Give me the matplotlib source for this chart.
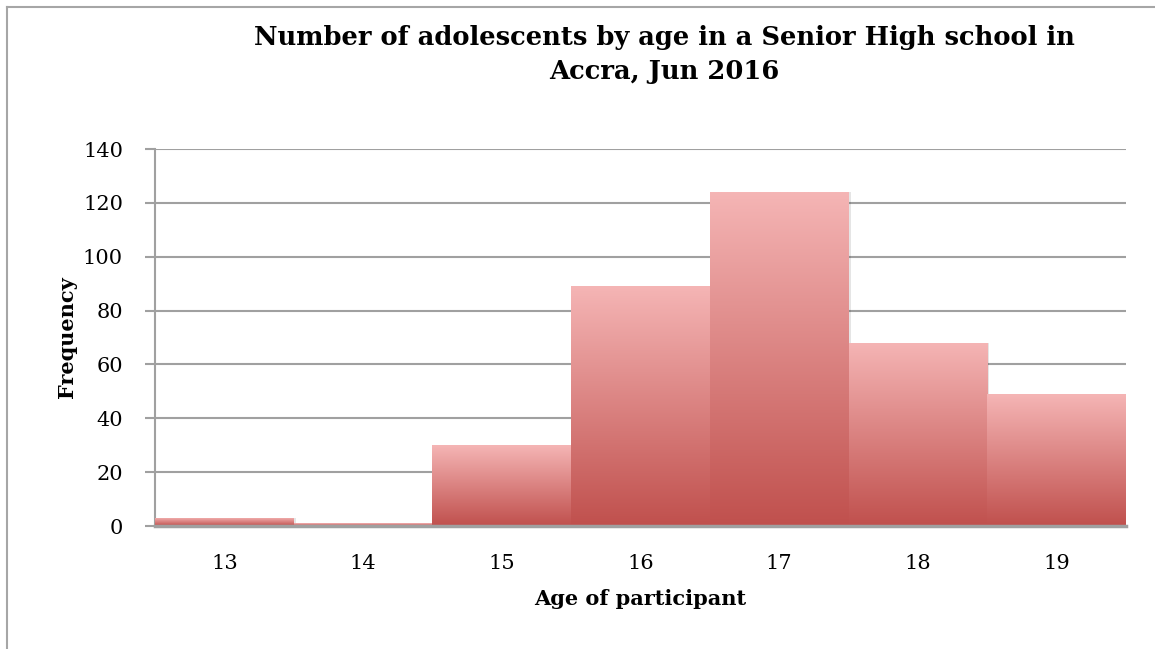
import numpy as np
import matplotlib
matplotlib.use("Agg")
import matplotlib.pyplot as plt
from matplotlib.colors import LinearSegmentedColormap
from matplotlib.patches import Rectangle
from matplotlib.lines import Line2D

ages = ["13", "14", "15", "16", "17", "18", "19"]
freq = [3, 1, 30, 89, 124, 68, 49]
yticks = [0, 20, 40, 60, 80, 100, 120, 140]
title = "Number of adolescents by age in a Senior High school in\nAccra, Jun 2016"
xlabel = "Age of participant"
ylabel = "Frequency"

plt.rcParams['font.family'] = ['DejaVu Serif']

fig = plt.figure(figsize=(11.55, 6.49), dpi=100)
ax = fig.add_axes([155/1155, 1-526/649, (1126-155)/1155, (526-149)/649])

# figure frame
fig.add_artist(Line2D([7/1155, 7/1155], [0, 1-7/649], transform=fig.transFigure, color="#a6a6a6", lw=1.5))
fig.add_artist(Line2D([7/1155, 1], [1-7/649, 1-7/649], transform=fig.transFigure, color="#a6a6a6", lw=1.5))

cmap = LinearSegmentedColormap.from_list("g", ["#c0504d", "#f5b5b5"])
grad = np.linspace(0, 1, 256).reshape(-1, 1)

x = np.arange(len(ages))
bars = ax.bar(x, freq, width=1.0, color="none", edgecolor="none", zorder=3)
for b in bars:
    bx, by, bw, bh = b.get_x(), b.get_y(), b.get_width(), b.get_height()
    sh = Rectangle((bx + 0.015, by), bw, bh, facecolor="#000000", alpha=0.10, edgecolor="none", zorder=2.5)
    ax.add_patch(sh)
    im = ax.imshow(grad, cmap=cmap, origin="lower", extent=[bx, bx + bw, by, by + bh],
                   aspect="auto", zorder=3, interpolation="bilinear")
    im.set_clip_path(b)

ax.set_xlim(-0.5, len(ages) - 0.5)
ax.set_ylim(0, 140)
ax.set_yticks(yticks)
ax.set_xticks(x)
ax.set_xticklabels(ages)
ax.grid(axis="y", color="#a0a0a0", lw=1.5, zorder=1)
ax.set_axisbelow(True)
for s in ["top", "right"]:
    ax.spines[s].set_visible(False)
ax.spines["left"].set_color("#a0a0a0")
ax.spines["left"].set_linewidth(1.5)
ax.spines["bottom"].set_color("#a0a0a0")
ax.spines["bottom"].set_linewidth(2.5)
ax.spines["bottom"].set_zorder(4)
ax.tick_params(axis="y", length=7, color="#a0a0a0", width=1.5, labelsize=15, pad=16)
ax.tick_params(axis="x", length=0, labelsize=15, pad=20)

ax.set_xlabel(xlabel, fontsize=15, fontweight="bold", labelpad=12)
ax.set_ylabel(ylabel, fontsize=15, fontweight="bold", labelpad=4)
fig.text(664/1155, 1-55/649, title, ha="center", va="center", fontsize=18.5, fontweight="bold", linespacing=1.45)

fig.savefig("out.png", dpi=100)
